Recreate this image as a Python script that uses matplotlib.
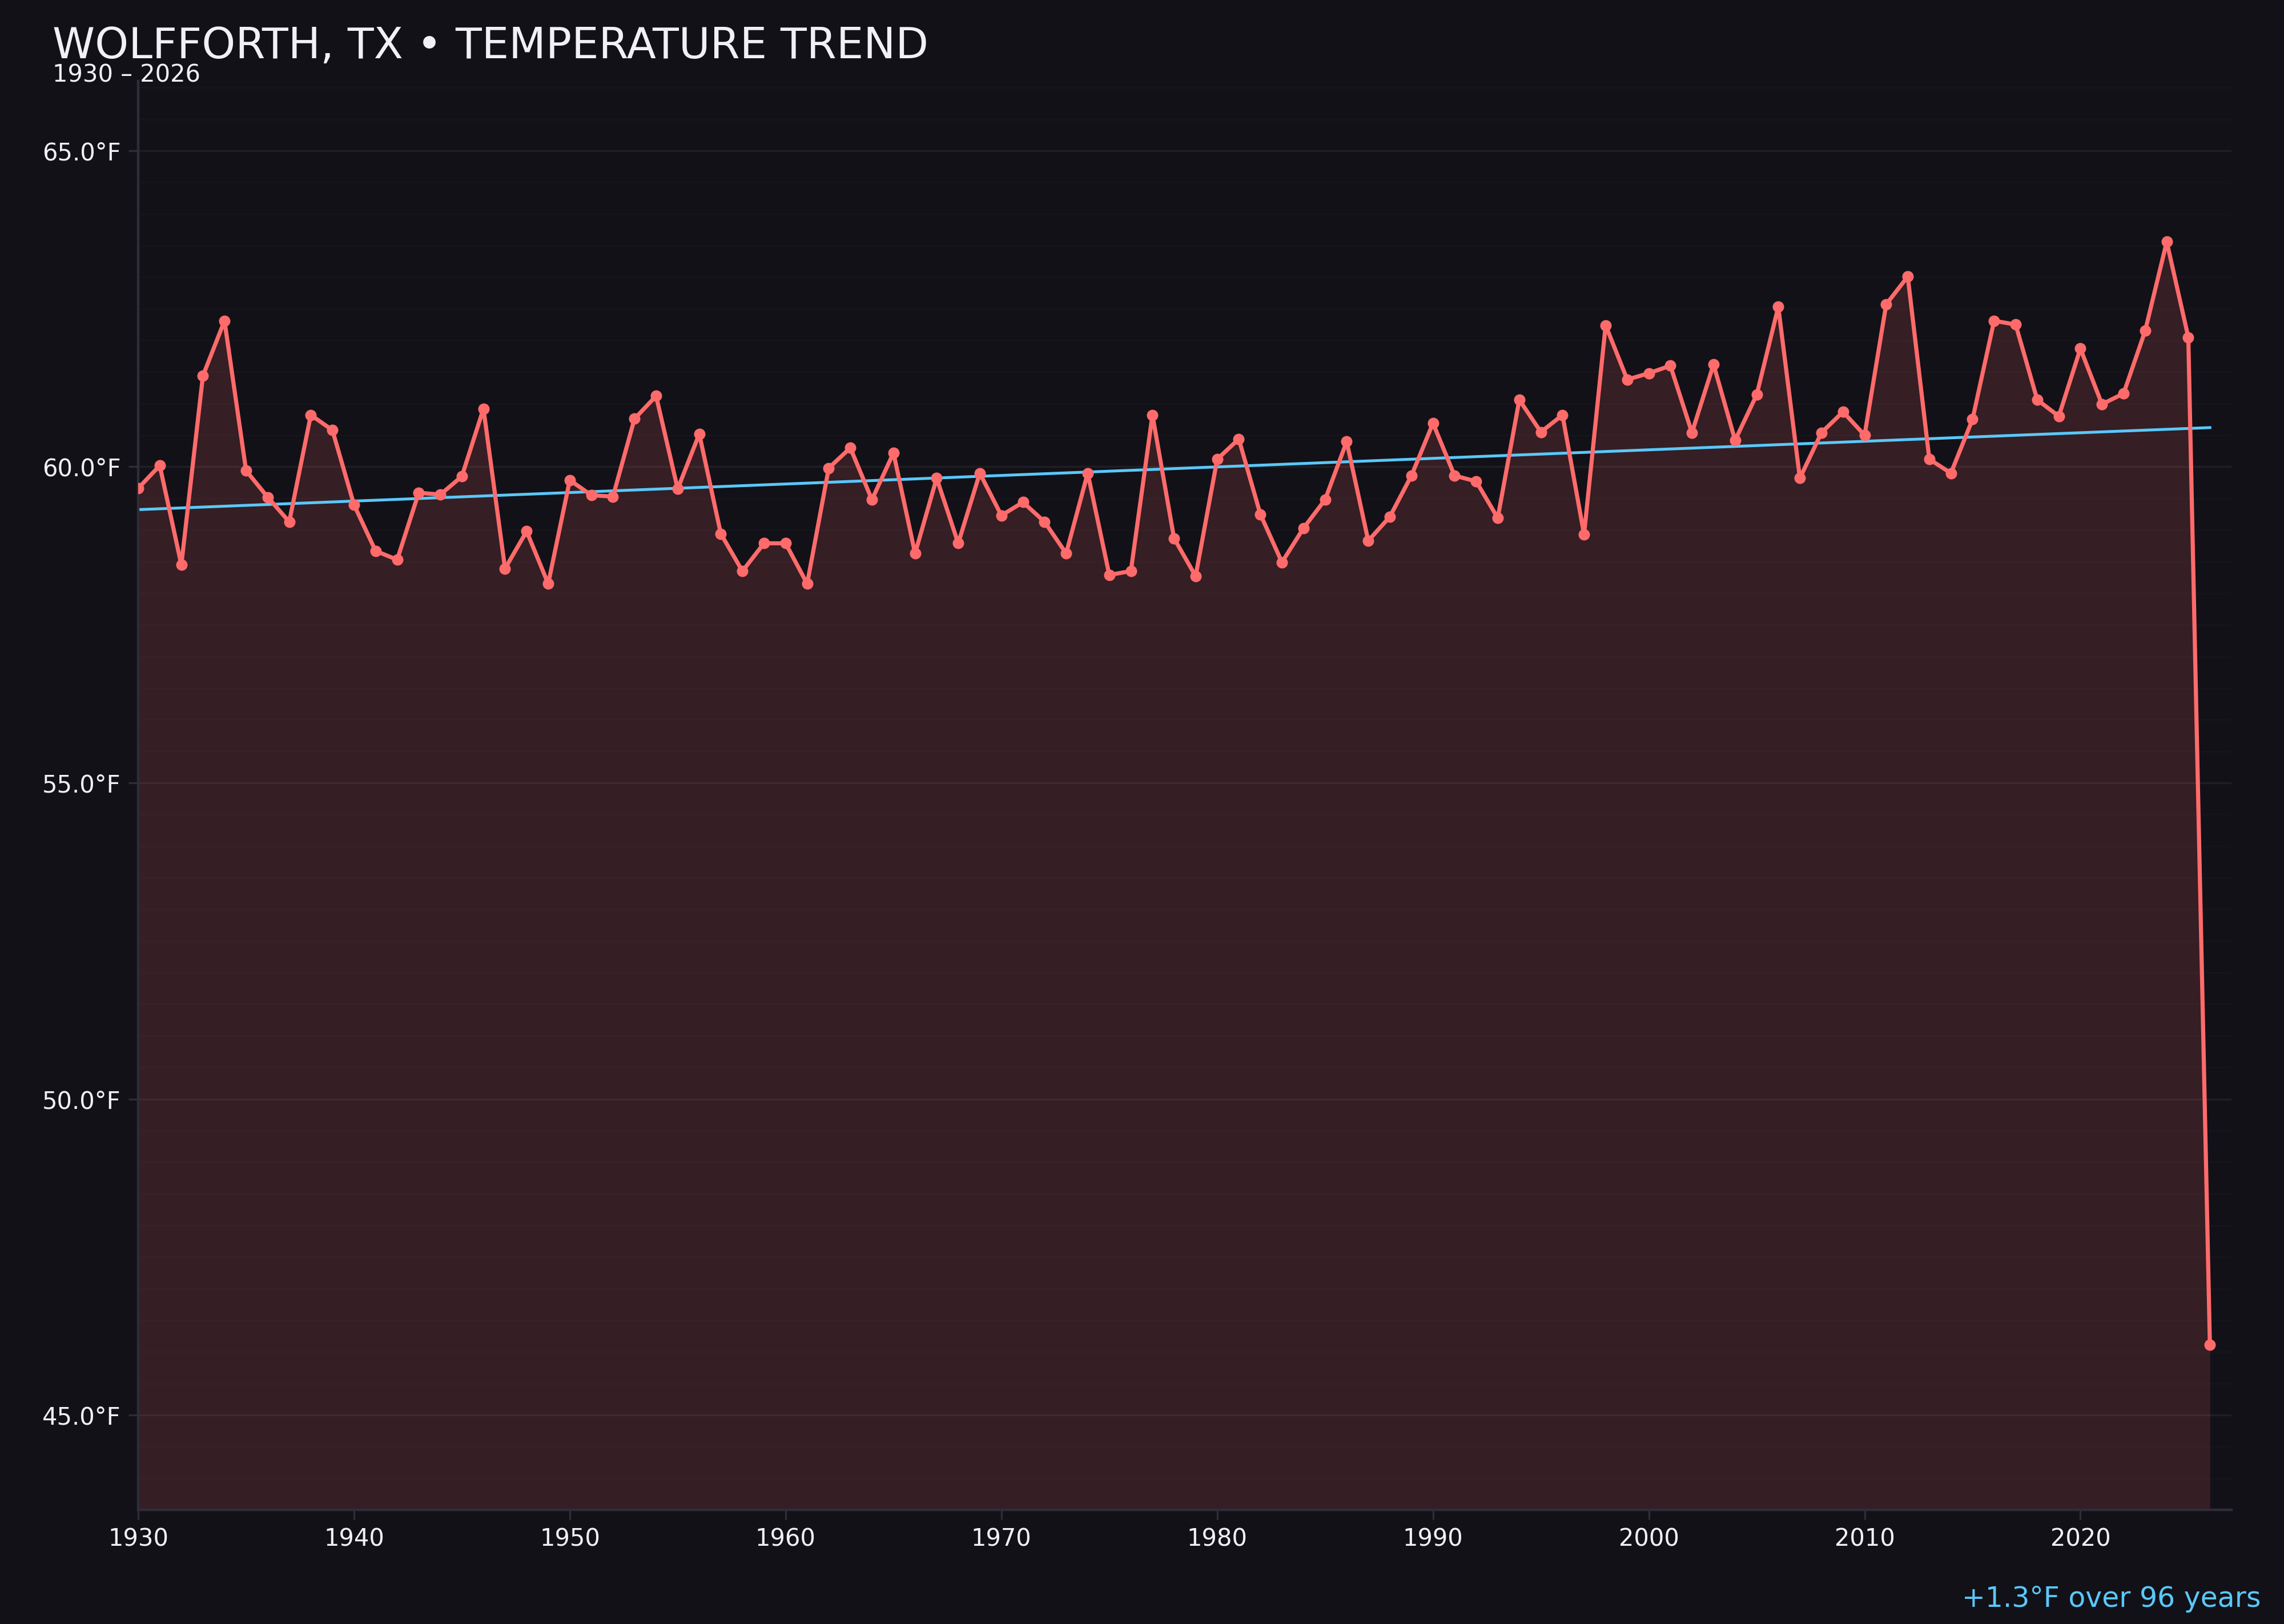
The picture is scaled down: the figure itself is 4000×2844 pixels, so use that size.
import numpy as np
import matplotlib.pyplot as plt
from matplotlib.ticker import MultipleLocator, FuncFormatter

# annual mean temperature
years = np.arange(1930, 2027)
temps = [
    59.66, 60.02, 58.45, 61.44, 62.31, 59.94, 59.52, 59.13, 60.82, 60.58,  # 1930s
    59.40, 58.67, 58.53, 59.59, 59.56, 59.85, 60.92, 58.39, 58.98, 58.15,  # 1940s
    59.79, 59.55, 59.53, 60.76, 61.12, 59.65, 60.52, 58.94, 58.35, 58.79,  # 1950s
    58.79, 58.15, 59.98, 60.30, 59.48, 60.22, 58.63, 59.82, 58.79, 59.90,  # 1960s
    59.23, 59.44, 59.13, 58.63, 59.90, 58.29, 58.35, 60.82, 58.87, 58.27,  # 1970s
    60.12, 60.44, 59.25, 58.49, 59.03, 59.48, 60.40, 58.83, 59.21, 59.86,  # 1980s
    60.69, 59.86, 59.77, 59.19, 61.06, 60.55, 60.82, 58.93, 62.24, 61.38,  # 1990s
    61.48, 61.60, 60.54, 61.62, 60.42, 61.14, 62.53, 59.82, 60.54, 60.87,  # 2000s
    60.50, 62.57, 63.01, 60.12, 59.90, 60.75, 62.31, 62.25, 61.06, 60.80,  # 2010s
    61.87, 60.99, 61.16, 62.15, 63.56, 62.05, 46.11,                       # 2020s
]
temps = np.array(temps)

title = "WOLFFORTH, TX \u2022 TEMPERATURE TREND"
subtitle = "1930 \u2013 2026"
footer = "+1.3\u00b0F over 96 years"

BG = "#121118"
RED = "#ff6b6b"
BLUE = "#5ac8fa"
TXT = "#f0f0f5"
SPINE = "#2e2d38"

plt.rcParams['font.family'] = ['DejaVu Sans']

fig = plt.figure(figsize=(10, 7.11), dpi=400, facecolor=BG)
ax = fig.add_axes([0.0605, 0.0703, 0.9165, 0.8797])
ax.set_facecolor(BG)

# fill under the curve
ax.fill_between(years, temps, 43.5, color=RED, alpha=0.15, linewidth=0, zorder=1)

# linear trend
coef = np.polyfit(years, temps, 1)
ax.plot(years, np.polyval(coef, years), color=BLUE, lw=0.9, zorder=2)

ax.plot(years, temps, color=RED, lw=1.3, marker='o', ms=2.6, zorder=3)

ax.set_xlim(1930, 2027)
ax.set_ylim(43.5, 66.1)
ax.xaxis.set_major_locator(MultipleLocator(10))
ax.yaxis.set_major_locator(MultipleLocator(5))
ax.yaxis.set_minor_locator(MultipleLocator(0.5))
ax.yaxis.set_major_formatter(FuncFormatter(lambda v, p: f"{v:.1f}\u00b0F"))

ax.grid(axis='y', which='major', color='#ffffff', alpha=0.06, lw=0.6)
ax.grid(axis='y', which='minor', color='#ffffff', alpha=0.018, lw=0.5)
ax.set_axisbelow(True)

for s in ['top', 'right']:
    ax.spines[s].set_visible(False)
for s in ['left', 'bottom']:
    ax.spines[s].set_color(SPINE)
    ax.spines[s].set_linewidth(0.8)

ax.tick_params(axis='both', which='major', colors=SPINE, labelcolor=TXT,
               labelsize=7.5, length=3, width=0.6, pad=2.5)
ax.tick_params(axis='y', which='minor', length=0)

fig.text(0.023, 0.964, title, color=TXT, fontsize=13.5, ha='left', va='baseline')
fig.text(0.023, 0.9494, subtitle, color=TXT, fontsize=7.5, ha='left', va='baseline')
fig.text(0.990, 0.0105, footer, color=BLUE, fontsize=8.8, ha='right', va='baseline')

fig.savefig("out.png", dpi=400, facecolor=BG)
